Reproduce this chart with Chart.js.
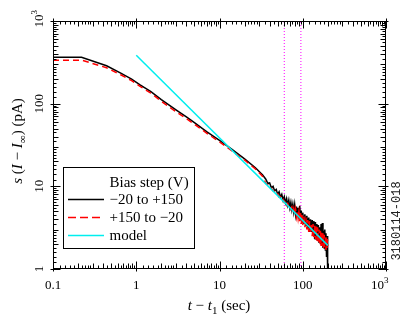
<!DOCTYPE html>
<html>
<head>
<meta charset="utf-8">
<script src="https://cdn.jsdelivr.net/npm/chart.js@4/dist/chart.umd.min.js"></script>
<style>
  html, body { margin: 0; padding: 0; background: #fff; }
  #wrap { width: 407px; height: 324px; }
</style>
</head>
<body>
<div id="wrap"><canvas id="c" width="407" height="324"></canvas></div>
<script>
// tick labels
var xTicks = [0.1, 1, 10, 100, 1000];
var xTickLabels = ["0.1", "1", "10", "100", "10^3"];
var yTicks = [1, 10, 100, 1000];
var yTickLabels = ["1", "10", "100", "10^3"];

// bias step -20 to +150 (black)
var upT = [0.1, 0.22, 0.44, 0.66, 0.88, 1.1, 1.5, 2, 3, 4, 5, 7, 10, 14, 20, 27, 33,
  36, 38, 40, 42, 44, 46, 48, 50, 52, 54, 56, 58, 60, 62, 64, 66, 68, 70, 72, 74, 76, 78,
  80, 82, 84, 86, 88, 90, 92, 94, 96, 98, 100, 103, 106, 109, 112, 115, 118, 121, 124,
  127, 130, 133, 136, 139, 142, 145, 148, 151, 154, 157, 160, 163, 166, 169, 172, 175,
  178, 181, 184, 187, 190, 193, 196, 198, 199, 200];
var upS = [365, 365, 287, 232, 198, 170, 140, 112, 84, 69, 59, 46, 36, 28.2, 21.5, 16.8, 13.7,
  12.2, 10.9, 11.0, 9.6, 10.0, 8.8, 9.2, 8.0, 8.6, 7.4, 8.0, 6.8, 7.5, 6.3, 7.1, 5.9, 6.8, 5.5, 6.4, 5.2, 6.1, 4.9,
  6.0, 4.6, 5.7, 4.3, 5.5, 4.1, 5.8, 3.9, 5.1, 3.7, 4.8, 3.5, 4.6, 3.3, 4.4, 3.1, 4.2, 2.8, 4.0,
  2.8, 3.9, 2.6, 3.8, 2.3, 3.7, 2.3, 3.5, 2.2, 3.4, 2.1, 3.2, 2.0, 3.5, 1.9, 3.6, 1.8,
  2.9, 1.8, 3.0, 1.7, 2.7, 1.4, 2.5, 1.3, 2.3, 1.0];

// bias step +150 to -20 (red)
var downT = [0.1, 0.22, 0.44, 0.66, 0.88, 1.1, 1.5, 2, 3, 4, 5, 7, 10, 14, 20, 27, 33,
  36, 38, 40, 42, 44, 46, 48, 50, 52, 54, 56, 58, 60, 62, 64, 66, 68, 70, 72, 74, 76, 78,
  80, 82, 84, 86, 88, 90, 92, 94, 96, 98, 100, 103, 106, 109, 112, 115, 118, 121, 124,
  127, 130, 133, 136, 139, 142, 145, 148, 151, 154, 157, 160, 163, 166, 169, 172, 175,
  178, 181, 184, 187, 190, 193, 196, 198, 199, 200];
var downS = [336, 336, 272, 222, 190, 163, 134, 107, 80, 66, 56.5, 44, 34.5, 27, 20.8, 16.2, 13.2,
  10.8, 10.5, 9.7, 9.5, 8.8, 8.7, 8.0, 8.1, 7.4, 7.5, 6.8, 7.0, 6.4, 6.6, 5.9, 6.2, 5.6, 5.9, 5.3, 5.6, 4.9, 5.4,
  4.6, 5.3, 4.3, 5.1, 4.1, 4.9, 3.8, 4.8, 3.5, 4.5, 3.4, 4.4, 3.2, 4.2, 3.0, 3.9, 2.8, 3.8, 2.7,
  3.6, 2.5, 3.5, 2.4, 3.4, 2.3, 3.3, 2.2, 3.2, 2.1, 3.0, 2.0, 2.9, 1.9, 2.8, 1.9, 2.7,
  1.8, 2.6, 1.8, 2.5, 1.7, 2.4, 1.8, 2.3, 1.9, 2.0];

// model
var modelT = [1, 200];
var modelS = [385, 1.93];

// dotted marker times
var markerT = [60, 95];

function pts(t, s) {
	var out = [];
	for (var i = 0; i < t.length; i++) out.push({ x: t[i], y: s[i] });
	return out;
}

var serif = "'Liberation Serif', 'Times New Roman', serif";

var datasets = [
	{ label: "\u221220 to +150", data: pts(upT, upS), borderColor: "#000000", borderWidth: 1.5, order: 2 },
	{ label: "+150 to \u221220", data: pts(downT, downS), borderColor: "#ff0000", borderWidth: 1.5, borderDash: [6, 4], order: 1 },
	{ label: "model", data: pts(modelT, modelS), borderColor: "#00eeee", borderWidth: 1.5, order: 0 }
];
markerT.forEach(function (m) {
	datasets.push({ data: [{ x: m, y: 1 }, { x: m, y: 1000 }], borderColor: "#ff00ff", borderWidth: 1, borderDash: [1, 2], order: 3 });
});
datasets.forEach(function (d) { d.pointRadius = 0; d.fill = false; d.tension = 0; });

// draws text made of pieces (italic / sub / sup)
function richWidth(ctx, parts) {
	var w = 0;
	parts.forEach(function (p) { ctx.font = p.f; w += ctx.measureText(p.t).width; });
	return w;
}
function drawRich(ctx, parts, x, y) {
	var w = richWidth(ctx, parts);
	var cx = x - w / 2;
	parts.forEach(function (p) {
		ctx.font = p.f;
		ctx.fillText(p.t, cx, y + (p.dy || 0));
		cx += ctx.measureText(p.t).width;
	});
}

var frame = {
	id: "frame",
	afterDatasetsDraw: function (chart) {
		var ctx = chart.ctx;
		var a = chart.chartArea;
		var xs = chart.scales.x, ys = chart.scales.y;
		var L = Math.round(a.left) + 0.5, R = Math.round(a.right) - 0.5;
		var T = Math.round(a.top) + 0.5, B = Math.round(a.bottom) - 0.5;
		ctx.save();
		ctx.strokeStyle = "#000";
		ctx.lineWidth = 1;
		ctx.strokeRect(L, T, R - L, B - T);

		// ticks on all four sides
		var minor = [];
		for (var e = -1; e <= 3; e++) {
			var d = Math.pow(10, e);
			minor.push([d, 0]);
			if (e === 3) break;
			[1.2, 1.4, 1.6, 1.8, 2.2, 2.4, 2.6, 2.8, 3.5, 4.5, 5.5, 6.5, 7.5, 8.5, 9.5].forEach(function (m) { minor.push([m * d, 2]); });
			[2, 3, 4, 5, 6, 7, 8, 9].forEach(function (m) { minor.push([m * d, 1]); });
		}
		ctx.beginPath();
		minor.forEach(function (mk) {
			var v = mk[0], k = mk[1];
			var inL = k === 0 ? 7 : (k === 1 ? 5 : 3);
			var outL = k === 0 ? 3 : 0;
			if (v >= 0.1 && v <= 1000) {
				var px = Math.round(xs.getPixelForValue(v)) + 0.5;
				ctx.moveTo(px, B + outL); ctx.lineTo(px, B - inL);
				ctx.moveTo(px, T - outL); ctx.lineTo(px, T + inL);
			}
			if (v >= 1 && v <= 1000) {
				var py = Math.round(ys.getPixelForValue(v)) + 0.5;
				ctx.moveTo(L - outL, py); ctx.lineTo(L + inL, py);
				ctx.moveTo(R + outL, py); ctx.lineTo(R - inL, py);
			}
		});
		ctx.stroke();

		// tick labels
		ctx.fillStyle = "#000";
		ctx.textBaseline = "alphabetic";
		var f13 = "13px " + serif, f9 = "9px " + serif;
		xTicks.forEach(function (v, i) {
			var px = xs.getPixelForValue(v);
			var lab = xTickLabels[i];
			if (lab.indexOf("^") > 0) {
				var p = lab.split("^");
				ctx.font = f13; ctx.textAlign = "right";
				ctx.fillText(p[0], px - 2, 289);
				ctx.font = f9; ctx.textAlign = "left";
				ctx.fillText(p[1], px - 2, 283);
			} else {
				ctx.font = f13; ctx.textAlign = "center";
				ctx.fillText(lab, px, 289);
			}
		});
		yTicks.forEach(function (v, i) {
			var py = ys.getPixelForValue(v);
			var lab = yTickLabels[i];
			ctx.save();
			ctx.translate(43, py);
			ctx.rotate(-Math.PI / 2);
			ctx.font = f13; ctx.textAlign = "center";
			if (lab.indexOf("^") > 0) {
				var p = lab.split("^");
				var w = ctx.measureText(p[0]).width;
				ctx.fillText(p[0], 0, 0);
				ctx.font = f9; ctx.textAlign = "left";
				ctx.fillText(p[1], w / 2, -6);
			} else {
				ctx.fillText(lab, 0, 0);
			}
			ctx.restore();
		});

		// axis titles
		var n15 = "15px " + serif, i15 = "italic 15px " + serif, s11 = "11px " + serif;
		ctx.textAlign = "left";
		drawRich(ctx, [
			{ t: "t", f: i15 }, { t: " \u2212 ", f: n15 }, { t: "t", f: i15 },
			{ t: "1", f: s11, dy: 4 }, { t: " (sec)", f: n15 }
		], 219, 310);
		ctx.save();
		ctx.translate(22, 141);
		ctx.rotate(-Math.PI / 2);
		drawRich(ctx, [
			{ t: "s", f: i15 }, { t: " (", f: n15 }, { t: "I", f: i15 }, { t: " \u2212 ", f: n15 },
			{ t: "I", f: i15 }, { t: "\u221e", f: s11, dy: 4 }, { t: ") (pA)", f: n15 }
		], 0, 0);
		ctx.restore();

		// figure code on the right
		ctx.save();
		ctx.translate(400, 221);
		ctx.rotate(-Math.PI / 2);
		ctx.font = "12px 'Liberation Mono', monospace";
		ctx.fillStyle = "#222";
		ctx.textAlign = "center";
		ctx.fillText("3180114-018", 0, 0);
		ctx.restore();

		// legend
		ctx.fillStyle = "#fff";
		ctx.fillRect(63.5, 167.5, 131, 81);
		ctx.strokeStyle = "#000";
		ctx.lineWidth = 1;
		ctx.strokeRect(63.5, 167.5, 131, 81);
		ctx.fillStyle = "#000";
		ctx.font = n15;
		ctx.textAlign = "left";
		ctx.fillText("Bias step (V)", 109.5, 186.5);
		var rows = [199, 217, 235];
		chart.data.datasets.filter(function (d) { return d.label; }).forEach(function (d, i) {
			var y = rows[i] + 0.5;
			ctx.beginPath();
			ctx.strokeStyle = d.borderColor;
			ctx.lineWidth = 1.5;
			ctx.setLineDash(d.borderDash ? [8, 4] : []);
			ctx.moveTo(68, y); ctx.lineTo(104, y);
			ctx.stroke();
			ctx.setLineDash([]);
			ctx.fillStyle = "#000";
			ctx.font = n15;
			ctx.fillText(d.label, 109.5, rows[i] + 5);
		});
		ctx.restore();
	}
};

new Chart(document.getElementById("c").getContext("2d"), {
	type: "line",
	data: { datasets: datasets },
	options: {
		responsive: false,
		animation: false,
		events: [],
		layout: { padding: { left: 53, right: 21, top: 21, bottom: 55 } },
		plugins: { legend: { display: false }, tooltip: { enabled: false } },
		scales: {
			x: { type: "logarithmic", min: 0.1, max: 1000, display: false },
			y: { type: "logarithmic", min: 1, max: 1000, display: false }
		}
	},
	plugins: [frame]
});
</script>
</body>
</html>
